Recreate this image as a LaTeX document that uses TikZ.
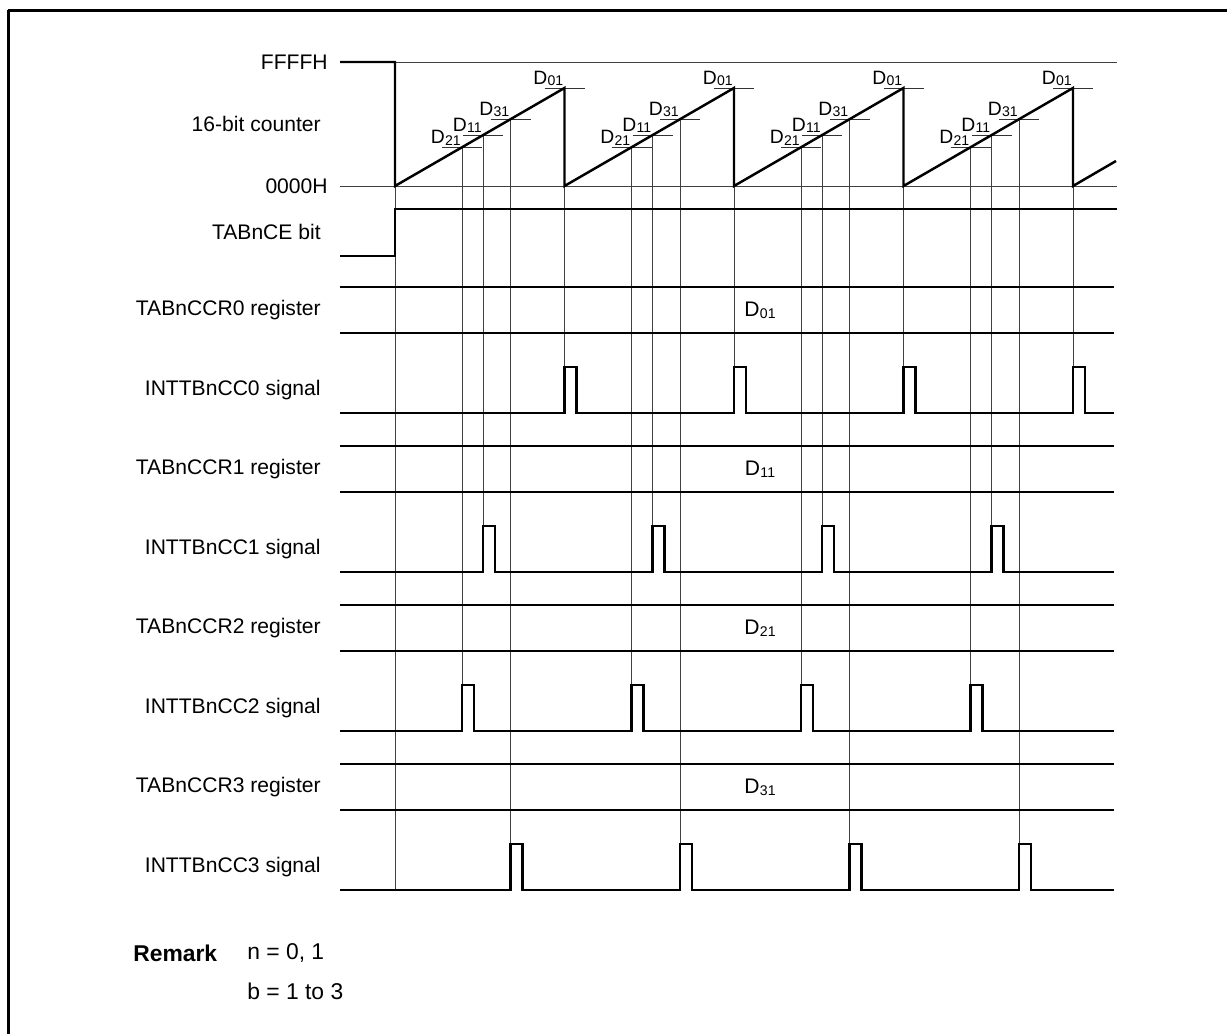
\documentclass[tikz,border=0pt]{standalone}
\usepackage{fontspec}
\setmainfont{Liberation Sans}
\usetikzlibrary{positioning,calc}
\tikzset{
  lbl/.style={
    anchor=east,
    inner sep=0pt,
    font=\fontsize{12}{14}\selectfont,
  },
  wave/.style={
    line width=1.4pt,
    line join=miter
  },
  guide/.style={
    line width=0.5pt,
    black!75
  },
  dtick/.style={
    line width=0.6pt,
    black!80
  },
  dlbl/.style={
    anchor=south east,
    inner sep=0.5pt,
    font=\fontsize{11}{13}\selectfont
  },
  dval/.style={
    inner sep=0pt,
    font=\fontsize{12}{14}\selectfont
  },
  frame/.style={
    line width=1.8pt
  }
}
\newcommand{\dsub}[1]{D\kern0.2pt\raisebox{-0.15ex}{\fontsize{8}{9}\selectfont #1}}

\begin{document}
\begin{tikzpicture}[x=0.02cm, y=-0.02cm]
\useasboundingbox (0,0) rectangle (1232,1034);

% frame (open towards right and bottom)
\coordinate (fc) at (8.3,10.5);
\draw[frame] (fc) -- (8.3,1034);
\draw[frame] (fc) -- (1227,10.5);

% 16-bit counter
\node[lbl] (ffff) at (328,62) {FFFFH};
\node[lbl] (cnt) at (321,124) {16-bit counter};
\node[lbl] (zero) at (328,186) {0000H};
\draw[guide] (395,62) -- (1117,62);
\draw[guide] (340,186) -- (1117,186);

% guides from the counter down to the pulses
\draw[guide] (395,186) -- (395,890);
\foreach \t in {395,564.5,734,903.5} {
  \draw[guide] ({\t+169.5},186) -- ({\t+169.5},367);
  \draw[guide] ({\t+67},{186-0.578*67}) -- ({\t+67},685);
  \draw[guide] ({\t+88},{186-0.578*88}) -- ({\t+88},526);
  \draw[guide] ({\t+115.5},{186-0.578*115.5}) -- ({\t+115.5},844);
}

% compare levels on the ramp
\foreach \t in {395,564.5,734,903.5} {
  \foreach \o/\d in {67/21, 88/11, 115.5/31, 169.5/01} {
    \coordinate (hit) at ({\t+\o},{186-0.578*\o});
    \draw[dtick] ($(hit)+(-20,0)$) -- ($(hit)+(20,0)$);
    \node[dlbl] at ($(hit)+(0,-1)$) {\dsub{\d}};
  }
}

\draw[wave] (340,62) -- (395,62) -- (395,186)
  \foreach \t in {395,564.5,734,903.5} { -- ({\t+169.5},88) -- ({\t+169.5},186) }
  -- (1116,161);

% TABnCE bit
\node[lbl] (ce) at (321,232) {TABnCE bit};
\draw[wave] (340,256) -- (395,256) -- (395,209) -- (1117,209);

% registers and interrupt signals
\foreach \i/\o/\d in {0/169.5/01, 1/88/11, 2/67/21, 3/115.5/31} {
  \pgfmathsetmacro{\r}{287+159*\i}
  \pgfmathsetmacro{\b}{413+159*\i}
  \node[lbl] (reg\i) at (321,\r+23) {TABnCCR\i{} register};
  \draw[wave] (340,\r) -- (1114,\r);
  \draw[wave] (340,\r+46) -- (1114,\r+46);
  \node[dval] (val\i) at (760,\r+23) {\dsub{\d}};
  \node[lbl] (sig\i) at (321,\b-23) {INTTBnCC\i{} signal};
  \draw[wave] (340,\b)
    \foreach \t in {395,564.5,734,903.5} {
      -- ({\t+\o},\b) -- ({\t+\o},\b-46) -- ({\t+\o+12},\b-46) -- ({\t+\o+12},\b) }
    -- (1114,\b);
}

% remark
\node[anchor=west, inner sep=0pt, font=\fontsize{13}{15}\selectfont\bfseries] (rmk) at (133,953) {Remark};
\node[anchor=west, inner sep=0pt, font=\fontsize{13}{15}\selectfont] (rmkn) at (247,953) {n = 0, 1};
\node[anchor=west, inner sep=0pt, font=\fontsize{13}{15}\selectfont] (rmkb) at (247,991) {b = 1 to 3};

\end{tikzpicture}
\end{document}
